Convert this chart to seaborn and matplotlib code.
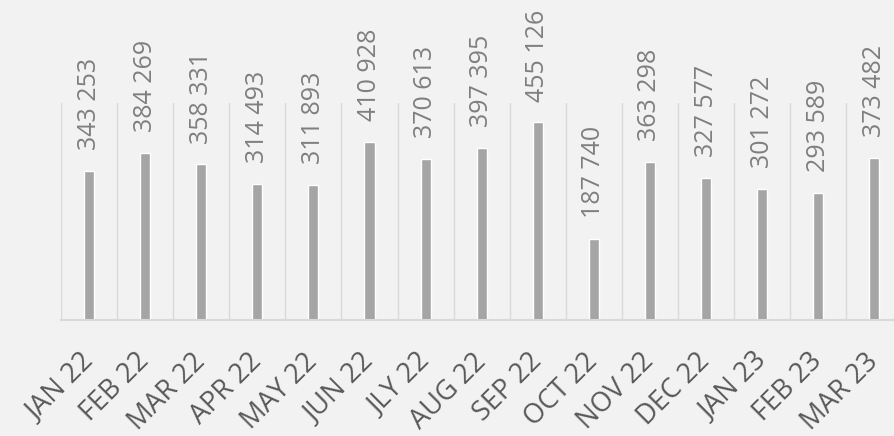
import matplotlib
matplotlib.use("Agg")
import matplotlib.pyplot as plt
import seaborn as sns
import pandas as pd

months = ["JAN 22", "FEB 22", "MAR 22", "APR 22", "MAY 22", "JUN 22", "JLY 22",
          "AUG 22", "SEP 22", "OCT 22", "NOV 22", "DEC 22", "JAN 23", "FEB 23", "MAR 23"]
values = [343253, 384269, 358331, 314493, 311893, 410928, 370613,
          397395, 455126, 187740, 363298, 327577, 301272, 293589, 373482]

df = pd.DataFrame({"month": months, "value": values})

sns.set_theme(style="white")
plt.rcParams["font.family"] = ["Open Sans", "DejaVu Sans"]

W, H = 895, 436
fig = plt.figure(figsize=(W / 100, H / 100), dpi=100)
fig.patch.set_facecolor("#f2f2f2")
left, right = 61 / W, 902.4 / W
bottom, top = 1 - 320 / H, 1 - 103 / H
ax = fig.add_axes([left, bottom, right - left, top - bottom])
ax.set_facecolor("#f2f2f2")

sns.barplot(data=df, x="month", y="value", color="#a5a5a5", width=0.18,
            saturation=1, ax=ax)
ax.set_ylim(0, 500000)
ax.set_xlim(-0.5, len(months) - 0.5)

# category separators
for i in range(len(months) + 1):
    ax.axvline(i - 0.5, color="#d9d9d9", lw=1.0, zorder=0)

for s in ["top", "right", "left"]:
    ax.spines[s].set_visible(False)
ax.spines["bottom"].set_color("#d9d9d9")
ax.spines["bottom"].set_linewidth(1.5)

ax.set_yticks([])
ax.set_xlabel("")
ax.set_ylabel("")
ax.tick_params(axis="x", length=0, pad=27)
ax.set_xticks(range(len(months)))
ax.set_xticklabels(months, rotation=45, ha="right", va="center",
                   rotation_mode="anchor", fontsize=19.5, color="#595959")

labels = [f"{v:,}".replace(",", " ") for v in values]
ax.bar_label(ax.containers[0], labels=labels, rotation=90, padding=15,
             fontsize=18, color="#7f7f7f", clip_on=False)

fig.savefig("out.png", dpi=100, facecolor=fig.get_facecolor())
